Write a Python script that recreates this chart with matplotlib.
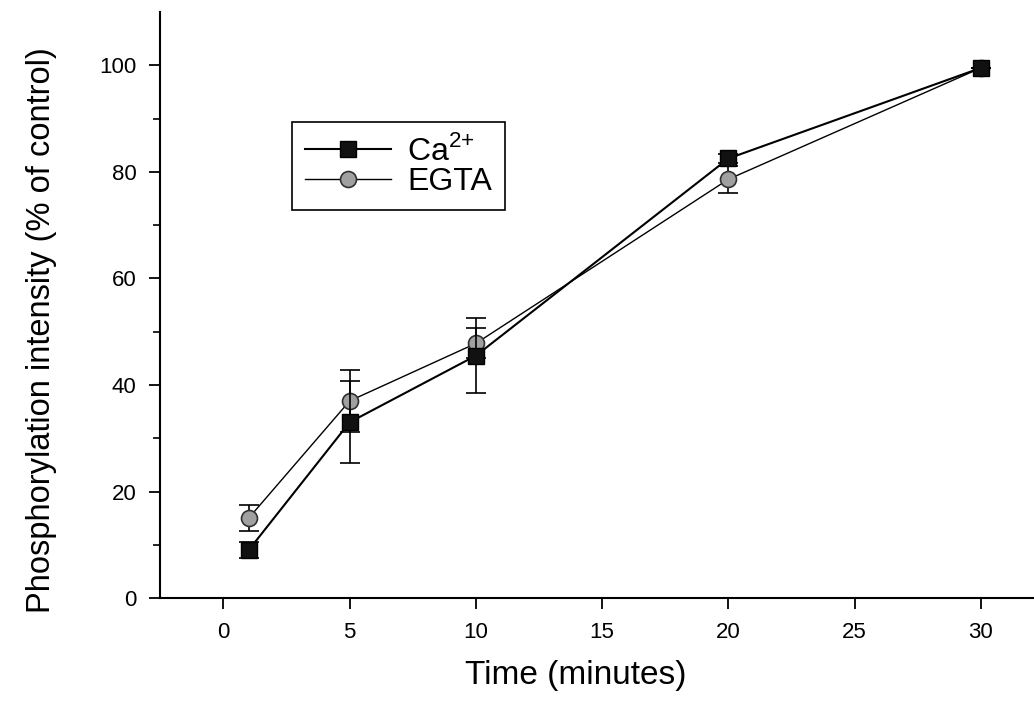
import matplotlib
matplotlib.use("Agg")
import matplotlib.pyplot as plt
from matplotlib.lines import Line2D

plt.rcParams['font.family'] = ['Liberation Sans', 'DejaVu Sans']
plt.rcParams['mathtext.fontset'] = 'custom'
plt.rcParams['mathtext.rm'] = 'Liberation Sans'

time_min = [1, 5, 10, 20, 30]

ca_vals = [9.0, 33.0, 45.5, 82.5, 99.5]
ca_err = [1.5, 7.7, 7.0, 0.8, 0.0]

egta_vals = [15.0, 37.0, 47.8, 78.6, 99.5]
egta_err = [2.5, 5.8, 2.8, 2.5, 0.0]

ca_style = dict(color='black', lw=1.5, marker='s', ms=11.5, mfc='#111111', mec='black')
egta_style = dict(color='black', lw=1.0, marker='o', ms=11.5, mfc='#a0a0a0',
                  mec='#303030', mew=1.2)

fig = plt.figure(figsize=(10.34, 7.02), dpi=100)
ax = fig.add_axes([0.155, 0.148, 0.845, 0.835])

ax.errorbar(time_min, egta_vals, yerr=egta_err, capsize=7, elinewidth=1.2,
            capthick=1.2, zorder=3, **egta_style)
ax.errorbar(time_min, ca_vals, yerr=ca_err, capsize=7, elinewidth=1.2,
            capthick=1.2, zorder=4, **ca_style)

ax.set_xlim(-2.5, 32.1)
ax.set_ylim(0, 110)
ax.set_xticks([0, 5, 10, 15, 20, 25, 30])
ax.set_yticks([0, 20, 40, 60, 80, 100])
ax.set_yticks([10, 30, 50, 70, 90], minor=True)

for side in ['top', 'right']:
    ax.spines[side].set_visible(False)
for side in ['left', 'bottom']:
    ax.spines[side].set_linewidth(1.5)

ax.tick_params(axis='both', which='major', direction='out', length=8, width=1.3,
               labelsize=16, pad=9)
ax.tick_params(axis='y', which='minor', direction='out', length=5, width=1.2)

ax.set_xlabel('Time (minutes)', fontsize=24)
ax.set_ylabel('Phosphorylation intensity (% of control)', fontsize=23.5)
ax.xaxis.set_label_coords(0.475, -0.106)
ax.yaxis.set_label_coords(-0.118, 0.457)

handles = [Line2D([], [], **ca_style), Line2D([], [], **egta_style)]
labels = ['Ca$^{2{+}}$', 'EGTA']
leg = ax.legend(handles, labels, loc='upper left',
                bbox_to_anchor=(0.151, 0.812), borderaxespad=0, fontsize=23,
                fancybox=False, framealpha=1, edgecolor='black',
                handlelength=2.7, handletextpad=0.5, borderpad=0.4,
                labelspacing=0.0)
leg.get_frame().set_linewidth(1.2)

fig.savefig('out.png', dpi=100)
